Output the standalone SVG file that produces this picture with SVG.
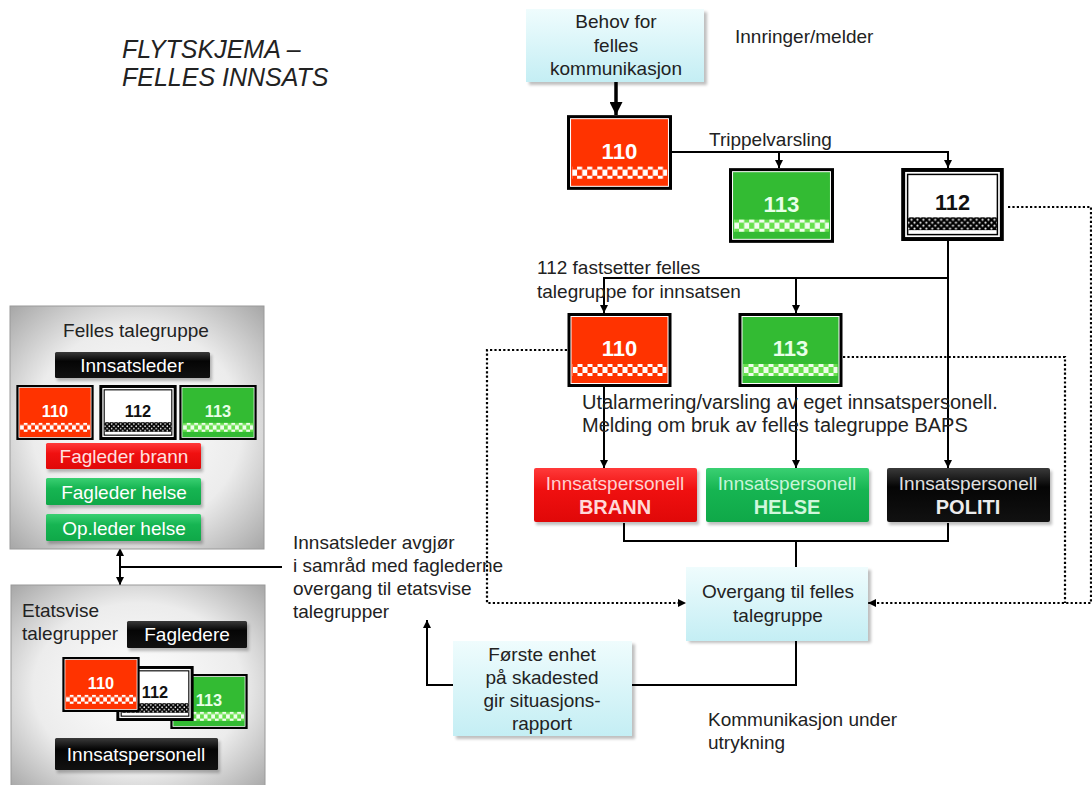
<svg xmlns="http://www.w3.org/2000/svg" width="1092" height="785" viewBox="0 0 1092 785">
<style>
text{font-family:"Liberation Sans",Arial,sans-serif;}
.t{font-size:19px;fill:#222;}
.tc{font-size:19px;fill:#222;text-anchor:middle;}
.ttl{font-size:25px;font-style:italic;fill:#222;}
.ln{fill:none;stroke:#000;stroke-width:2;}
.dot{fill:none;stroke:#000;stroke-width:2.2;stroke-dasharray:2.2 2.2;}
.bw{font-size:19px;fill:#fff;text-anchor:middle;}
.cy{fill:url(#gCyan);}
.sh{fill:#000;opacity:0.25;filter:url(#blur);}
</style>
<defs>
<filter id="blur" x="-10%" y="-10%" width="130%" height="130%"><feGaussianBlur stdDeviation="1.5"/></filter>
<linearGradient id="gCyan" x1="0" y1="0" x2="0" y2="1"><stop offset="0" stop-color="#effcfd"/><stop offset="1" stop-color="#c4eef4"/></linearGradient>
<radialGradient id="gPanel" cx="0.5" cy="0.5" r="0.75"><stop offset="0" stop-color="#ffffff"/><stop offset="0.55" stop-color="#ececec"/><stop offset="1" stop-color="#9c9c9c"/></radialGradient>
<linearGradient id="gBlack" x1="0" y1="0" x2="0" y2="1"><stop offset="0" stop-color="#3a3a3a"/><stop offset="0.35" stop-color="#050505"/><stop offset="1" stop-color="#111"/></linearGradient>
<linearGradient id="gRed" x1="0" y1="0" x2="0" y2="1"><stop offset="0" stop-color="#ff3a3a"/><stop offset="0.4" stop-color="#f01010"/><stop offset="1" stop-color="#e00808"/></linearGradient>
<linearGradient id="gGreen" x1="0" y1="0" x2="0" y2="1"><stop offset="0" stop-color="#3ad072"/><stop offset="0.4" stop-color="#16b552"/><stop offset="1" stop-color="#0fa848"/></linearGradient>
<pattern id="chkW" width="10" height="12" patternUnits="userSpaceOnUse"><rect x="0" y="0" width="5" height="6" fill="#fff"/><rect x="5" y="6" width="5" height="6" fill="#fff"/></pattern>
<pattern id="dotW" width="6" height="6" patternUnits="userSpaceOnUse"><rect width="6" height="6" fill="#000"/><circle cx="1.5" cy="1.5" r="1.1" fill="#fff"/><circle cx="4.5" cy="4.5" r="1.1" fill="#fff"/></pattern>
<marker id="ah" viewBox="0 0 10 10" refX="10" refY="5" markerWidth="8" markerHeight="8" markerUnits="userSpaceOnUse" orient="auto-start-reverse"><path d="M0,0 L10,5 L0,10 z" fill="#000"/></marker>
<marker id="ahL" viewBox="0 0 10 10" refX="10" refY="5" markerWidth="13" markerHeight="13" markerUnits="userSpaceOnUse" orient="auto"><path d="M0,0 L10,5 L0,10 z" fill="#000"/></marker>
<symbol id="s110" viewBox="0 0 104 74">
<rect x="0" y="0" width="104" height="74" fill="#000"/>
<rect x="3.5" y="3.5" width="97" height="67" fill="#ff3300" stroke="#fff" stroke-width="1"/>
<rect x="5" y="51" width="94" height="12" fill="url(#chkW)"/>
<text x="52" y="43" text-anchor="middle" font-size="22" font-weight="bold" fill="#fff" style="font-family:'Liberation Sans',Arial,sans-serif">110</text>
</symbol>
<symbol id="s113" viewBox="0 0 104 74">
<rect x="0" y="0" width="104" height="74" fill="#000"/>
<rect x="3.5" y="3.5" width="97" height="67" fill="#33bb33" stroke="#fff" stroke-width="1"/>
<rect x="5" y="51" width="94" height="12" fill="#66e04c"/>
<rect x="5" y="51" width="94" height="12" fill="url(#chkW)" opacity="0.9"/>
<text x="52" y="43" text-anchor="middle" font-size="22" font-weight="bold" fill="#e8ffe8" style="font-family:'Liberation Sans',Arial,sans-serif">113</text>
</symbol>
<symbol id="s112" viewBox="0 0 104 74">
<rect x="0" y="0" width="104" height="74" fill="#000"/>
<rect x="4" y="4" width="96" height="66" fill="#fff"/>
<rect x="6.5" y="6.5" width="91" height="61" fill="none" stroke="#000" stroke-width="1.5"/>
<rect x="7" y="50" width="90" height="13" fill="url(#dotW)"/>
<text x="52" y="43" text-anchor="middle" font-size="22" font-weight="bold" fill="#111" style="font-family:'Liberation Sans',Arial,sans-serif">112</text>
</symbol>
</defs>
<rect width="1092" height="785" fill="#fff"/>

<g id="title">
<text class="ttl" x="122" y="58">FLYTSKJEMA –</text>
<text class="ttl" x="122" y="86">FELLES INNSATS</text>
</g>

<g id="connectors">
<line x1="616" y1="82" x2="616" y2="115" stroke="#000" stroke-width="3.5" marker-end="url(#ahL)"/>
<polyline class="ln" points="672,152 948,152 948,168" marker-end="url(#ah)"/>
<polyline class="ln" points="779,152 779,168" marker-end="url(#ah)"/>
<polyline class="ln" points="948,240 948,468" marker-end="url(#ah)"/>
<polyline class="ln" points="948,278 604,278 604,313" marker-end="url(#ah)"/>
<polyline class="ln" points="796,278 796,313" marker-end="url(#ah)"/>
<polyline class="ln" points="604,386 604,468" marker-end="url(#ah)"/>
<polyline class="ln" points="796,386 796,468" marker-end="url(#ah)"/>
<polyline class="ln" points="624,523 624,541 948,541 948,523"/>
<polyline class="ln" points="796,541 796,567"/>
<polyline class="ln" points="796,641 796,685 632,685"/>
<polyline class="ln" points="453,685 427,685 427,620" marker-end="url(#ah)"/>
<polyline class="dot" points="567,350 487,350 487,603 686,603" marker-end="url(#ah)"/>
<polyline class="dot" points="843,357 1065,357 1065,603"/>
<polyline class="dot" points="1008,207 1091,207 1091,603 868,603" marker-end="url(#ah)"/>
<line class="ln" x1="120" y1="548" x2="120" y2="585" marker-start="url(#ah)" marker-end="url(#ah)"/>
<line class="ln" x1="120" y1="567" x2="282" y2="567"/>
</g>

<g id="behov">
<rect class="sh" x="529" y="12" width="178" height="73"/>
<rect class="cy" x="526" y="9" width="178" height="73"/>
<text class="tc" x="616" y="28">Behov for</text>
<text class="tc" x="616" y="52">felles</text>
<text class="tc" x="616" y="75">kommunikasjon</text>
</g>
<g id="innringer"><text class="t" x="735" y="43">Innringer/melder</text></g>

<g id="n110a"><use href="#s110" x="567" y="115" width="105" height="75"/></g>
<g id="trippel"><text class="t" x="709" y="146">Trippelvarsling</text></g>
<g id="n113a"><use href="#s113" x="729" y="168" width="105" height="75"/></g>
<g id="n112a"><use href="#s112" x="900" y="168" width="105" height="73"/></g>

<g id="fastsetter">
<text class="t" x="537" y="274">112 fastsetter felles</text>
<text class="t" x="537" y="298">talegruppe for innsatsen</text>
</g>
<g id="n110b"><use href="#s110" x="567" y="313" width="105" height="74"/></g>
<g id="n113b"><use href="#s113" x="738" y="313" width="105" height="74"/></g>

<g id="utalarmering">
<text class="t" x="582" y="409" font-size="20" style="font-size:20px">Utalarmering/varsling av eget innsatspersonell.</text>
<text class="t" x="582" y="432" style="font-size:20px">Melding om bruk av felles talegruppe BAPS</text>
</g>

<g id="brann">
<rect class="sh" x="536" y="471" width="163" height="54"/>
<rect x="534" y="468" width="163" height="54" fill="url(#gRed)" rx="2"/>
<text x="615" y="490" text-anchor="middle" font-size="19" fill="#ffd0d0">Innsatspersonell</text>
<text x="615" y="514" text-anchor="middle" font-size="20" font-weight="bold" fill="#ffd8d8">BRANN</text>
</g>
<g id="helse">
<rect class="sh" x="708" y="471" width="163" height="54"/>
<rect x="706" y="468" width="163" height="54" fill="url(#gGreen)" rx="2"/>
<text x="787" y="490" text-anchor="middle" font-size="19" fill="#c8f5d8">Innsatspersonell</text>
<text x="787" y="514" text-anchor="middle" font-size="20" font-weight="bold" fill="#d0f7dc">HELSE</text>
</g>
<g id="politi">
<rect class="sh" x="889" y="471" width="163" height="54"/>
<rect x="887" y="468" width="163" height="54" fill="url(#gBlack)" rx="2"/>
<text x="968" y="490" text-anchor="middle" font-size="19" fill="#e0e0e0">Innsatspersonell</text>
<text x="968" y="514" text-anchor="middle" font-size="20" font-weight="bold" fill="#ececec">POLITI</text>
</g>

<g id="overgang">
<rect class="sh" x="689" y="570" width="182" height="73"/>
<rect class="cy" x="686" y="567" width="182" height="74"/>
<text class="tc" x="778" y="598">Overgang til felles</text>
<text class="tc" x="778" y="622">talegruppe</text>
</g>
<g id="forste">
<rect class="sh" x="456" y="644" width="179" height="95"/>
<rect class="cy" x="453" y="641" width="179" height="95"/>
<text class="tc" x="542" y="661">Første enhet</text>
<text class="tc" x="542" y="684">på skadested</text>
<text class="tc" x="542" y="707">gir situasjons-</text>
<text class="tc" x="542" y="730">rapport</text>
</g>
<g id="kommunikasjon">
<text class="t" x="708" y="726">Kommunikasjon under</text>
<text class="t" x="708" y="749">utrykning</text>
</g>

<g id="avgjor">
<text class="t" x="293" y="549">Innsatsleder avgjør</text>
<text class="t" x="293" y="572">i samråd med faglederne</text>
<text class="t" x="293" y="595">overgang til etatsvise</text>
<text class="t" x="293" y="618">talegrupper</text>
</g>

<g id="panelFelles">
<rect x="10" y="306" width="254" height="243" fill="url(#gPanel)" stroke="#9a9a9a" stroke-width="1"/>
<text class="tc" x="136" y="337">Felles talegruppe</text>
<g id="innsatsleder">
<rect class="sh" x="57" y="355" width="155" height="26"/>
<rect x="55" y="352" width="155" height="26" fill="url(#gBlack)" rx="1.5"/>
<text class="bw" x="132" y="372">Innsatsleder</text>
</g>
<use href="#s110" x="16" y="385" width="78" height="55"/>
<use href="#s112" x="99" y="385" width="78" height="55"/>
<use href="#s113" x="179" y="385" width="78" height="55"/>
<g id="fagbrann">
<rect class="sh" x="48" y="446" width="155" height="26"/>
<rect x="46" y="443" width="155" height="26" fill="url(#gRed)" rx="1.5"/>
<text class="bw" x="124" y="463" style="fill:#ffe0e0">Fagleder brann</text>
</g>
<g id="faghelse">
<rect class="sh" x="48" y="481" width="155" height="27"/>
<rect x="46" y="478" width="155" height="27" fill="url(#gGreen)" rx="1.5"/>
<text class="bw" x="124" y="499">Fagleder helse</text>
</g>
<g id="opleder">
<rect class="sh" x="48" y="517" width="155" height="27"/>
<rect x="46" y="514" width="155" height="27" fill="url(#gGreen)" rx="1.5"/>
<text class="bw" x="124" y="535">Op.leder helse</text>
</g>
</g>

<g id="panelEtat">
<rect x="11" y="585" width="254" height="205" fill="url(#gPanel)" stroke="#9a9a9a" stroke-width="1"/>
<text class="t" x="22" y="617">Etatsvise</text>
<text class="t" x="22" y="640">talegrupper</text>
<g id="fagledere">
<rect class="sh" x="129" y="624" width="120" height="27"/>
<rect x="127" y="621" width="120" height="27" fill="url(#gBlack)" rx="1.5"/>
<text class="bw" x="187" y="641">Fagledere</text>
</g>
<use href="#s113" x="170" y="674" width="78" height="55"/>
<use href="#s112" x="116" y="666" width="78" height="55"/>
<use href="#s110" x="62" y="657" width="78" height="55"/>
<g id="innsatspers">
<rect class="sh" x="57" y="741" width="163" height="32"/>
<rect x="55" y="738" width="163" height="32" fill="url(#gBlack)" rx="1.5"/>
<text class="bw" x="136" y="761">Innsatspersonell</text>
</g>
</g>
</svg>
